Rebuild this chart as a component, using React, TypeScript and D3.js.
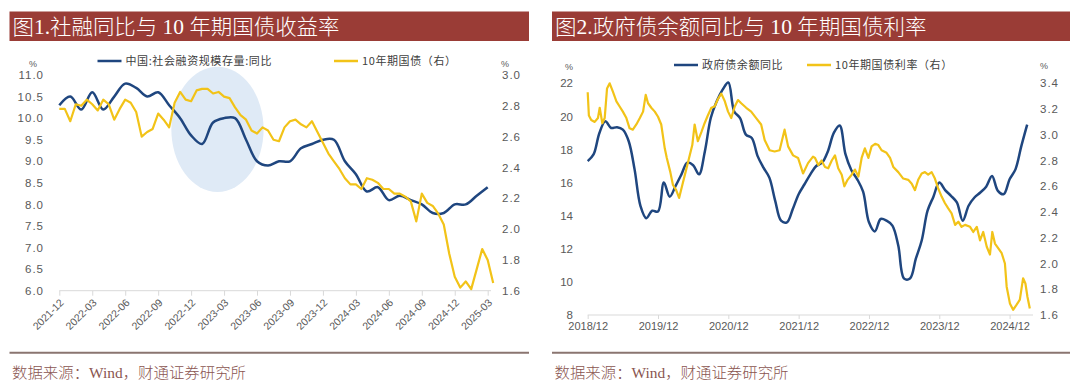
import React, { useEffect, useRef } from "react";
import * as d3 from "d3";

// ---- chart 1: 社融同比 vs 10Y (monthly, 2021-12 .. 2025-03) ----
const quarterLabels = [
  "2021-12", "2022-03", "2022-06", "2022-09", "2022-12", "2023-03", "2023-06",
  "2023-09", "2023-12", "2024-03", "2024-06", "2024-09", "2024-12", "2025-03",
];
// 中国:社会融资规模存量:同比, one value per month from 2021-12
const tsfYoy = [
  10.3, 10.5, 10.2, 10.6, 10.2, 10.5, 10.8, 10.7, 10.5, 10.6,
  10.3, 10.0, 9.6, 9.4, 9.9, 10.0, 10.0, 9.5, 9.0, 8.9,
  9.0, 9.0, 9.3, 9.4, 9.5, 9.5, 9.0, 8.7, 8.3, 8.4,
  8.1, 8.2, 8.1, 8.0, 7.8, 7.8, 8.0, 8.0, 8.2, 8.4,
];
// 10年期国债, twice a month from 2021-12
const cgb10y1 = [
  2.78, 2.78, 2.70, 2.81, 2.80, 2.84, 2.81, 2.77, 2.84, 2.81,
  2.71, 2.78, 2.84, 2.82, 2.76, 2.60, 2.63, 2.65, 2.75, 2.71,
  2.66, 2.82, 2.89, 2.84, 2.83, 2.90, 2.91, 2.91, 2.88, 2.89,
  2.86, 2.85, 2.79, 2.74, 2.71, 2.64, 2.62, 2.66, 2.64, 2.58,
  2.57, 2.66, 2.70, 2.71, 2.68, 2.66, 2.70, 2.63, 2.56, 2.49,
  2.44, 2.39, 2.33, 2.29, 2.29, 2.26, 2.33, 2.32, 2.30, 2.26,
  2.26, 2.23, 2.23, 2.21, 2.18, 2.05, 2.23, 2.17, 2.15, 2.10,
  2.03, 1.84, 1.69, 1.62, 1.66, 1.61, 1.74, 1.87, 1.80, 1.65,
];

// ---- chart 2: 政府债余额同比 vs 10Y (2018/12 .. 2025/03) ----
const yearLabels = ["2018/12", "2019/12", "2020/12", "2021/12", "2022/12", "2023/12", "2024/12"];
// 政府债余额同比, monthly from 2018-12
const govDebtYoy = [
  17.3, 17.7, 19.0, 19.7, 19.3, 19.35, 19.2, 18.5, 16.8, 14.6,
  13.85, 14.3, 14.25, 16.0, 15.15, 15.8, 16.5, 17.2, 17.05, 16.5,
  17.9, 19.9, 20.9, 21.6, 22.05, 20.3, 19.9, 18.9, 18.7, 17.6,
  16.9, 16.3, 14.9, 13.7, 13.6, 14.4, 15.3, 15.9, 16.5, 17.0,
  17.2, 17.9, 19.0, 19.45, 17.7, 16.75, 16.2, 15.45, 13.6, 13.05,
  13.8, 13.7, 13.4, 12.2, 10.2, 10.2, 11.4, 12.5, 14.3, 15.15,
  16.0, 15.55, 15.2, 14.8, 13.7, 14.6, 15.1, 15.4, 15.75, 16.4,
  15.5, 15.3, 16.2, 16.8, 18.2, 19.5,
];
// 10年期国债利率: months after 2018-12 and yield
const cgbMonths2 = [
  0, 0.2, 0.6, 1.2, 1.75, 2.05, 2.5, 2.9, 3.3, 3.75,
  4.3, 4.9, 5.45, 6.0, 6.6, 7.15, 7.7, 8.3, 8.9, 9.45,
  9.9, 10.3, 10.85, 11.45, 12.0, 12.55, 13.15, 13.5, 14.1, 14.55,
  15.1, 15.6, 16.15, 16.7, 17.3, 17.85, 18.25, 18.8, 19.4, 19.95,
  20.5, 21.1, 21.65, 22.25, 22.8, 23.4, 23.95, 24.5, 25.1, 25.65,
  26.2, 27.05, 27.9, 28.75, 29.6, 30.2, 31.05, 31.9, 32.75, 33.6,
  34.2, 35.05, 35.9, 36.75, 37.6, 38.45, 38.8, 39.35, 39.9, 40.5,
  41.05, 41.65, 42.2, 42.75, 43.35, 43.8, 44.35, 45.05, 45.6, 46.2,
  46.75, 47.3, 47.9, 48.45, 49.05, 49.6, 50.15, 51.0, 51.6, 52.15,
  53.0, 53.85, 54.7, 55.3, 55.85, 56.4, 57.0, 57.55, 58.1, 58.7,
  59.25, 59.8, 60.4, 60.95, 61.5, 62.1, 62.7, 63.25, 63.8, 64.4,
  65.25, 65.8, 66.4, 66.95, 67.5, 68.1, 68.65, 69.05, 69.5, 70.05,
  70.65, 71.2, 71.5, 72.05, 72.6, 73.2, 73.75, 74.3, 74.7, 75.05,
  75.45,
];
const cgb10y2 = [
  3.33, 3.15, 3.115, 3.10, 3.13, 3.21, 3.09, 3.13, 3.36, 3.40,
  3.335, 3.26, 3.22, 3.18, 3.13, 3.05, 3.04, 3.08, 3.13, 3.18,
  3.31, 3.245, 3.21, 3.18, 3.14, 3.08, 2.895, 2.82, 2.71, 2.61,
  2.57, 2.51, 2.61, 2.71, 2.82, 2.92, 3.08, 2.95, 3.02, 3.09,
  3.15, 3.21, 3.22, 3.28, 3.32, 3.26, 3.18, 3.13, 3.22, 3.27,
  3.245, 3.21, 3.18, 3.13, 3.08, 2.96, 2.88, 2.87, 2.88, 3.04,
  2.91, 2.84, 2.82, 2.70, 2.78, 2.83, 2.82, 2.765, 2.80, 2.75,
  2.74, 2.80, 2.84, 2.74, 2.69, 2.60, 2.65, 2.69, 2.73, 2.675,
  2.82, 2.895, 2.82, 2.91, 2.93, 2.92, 2.88, 2.86, 2.82, 2.75,
  2.71, 2.66, 2.65, 2.62, 2.57, 2.65, 2.70, 2.71, 2.69, 2.71,
  2.66, 2.585, 2.52, 2.47, 2.43, 2.39, 2.30, 2.325, 2.285, 2.30,
  2.285, 2.245, 2.285, 2.18, 2.245, 2.13, 2.07, 2.245, 2.155, 2.12,
  2.08, 2.00, 1.82, 1.69, 1.64, 1.68, 1.72, 1.885, 1.845, 1.74,
  1.65,
];

const BLUE = "#1f467f";
const GOLD = "#f2c318";
const GREY = "#595959";
const AXIS = "#d9d9d9";
const BAR = "#9a3c36";
const CJK = "'Noto Sans CJK SC', sans-serif";
const SERIF = "'Liberation Serif', 'Noto Sans CJK SC', serif";
const NUM = "'Liberation Sans', Arial, sans-serif";

const App: React.FC = () => {
  const svgRef = useRef<SVGSVGElement>(null);

  useEffect(() => {
    const svg = d3.select(svgRef.current);
    svg.selectAll("*").remove();

    const frame = (x0: number, x1: number, title: string, titleLen: number) => {
      svg.append("rect").attr("x", x0).attr("y", 11.5).attr("width", x1 - x0)
        .attr("height", 29.5).attr("fill", BAR);
      svg.append("text").attr("x", x0 + 3).attr("y", 34).attr("fill", "#fff")
        .attr("font-family", SERIF).attr("font-size", 21).attr("font-weight", 300)
        .attr("textLength", titleLen).attr("lengthAdjust", "spacingAndGlyphs")
        .text(title);
      svg.append("line").attr("x1", x0).attr("x2", x1).attr("y1", 352.7).attr("y2", 352.7)
        .attr("stroke", "#8a7570").attr("stroke-width", 2);
      svg.append("text").attr("x", x0 + 2.5).attr("y", 378).attr("fill", "#8a5550")
        .attr("font-family", SERIF).attr("font-size", 15).attr("font-weight", 300)
        .attr("textLength", 234).attr("lengthAdjust", "spacingAndGlyphs")
        .text("数据来源：Wind，财通证券研究所");
    };

    const legendItem = (x: number, y: number, color: string, label: string) => {
      svg.append("line").attr("x1", x).attr("x2", x + 24).attr("y1", y).attr("y2", y)
        .attr("stroke", color).attr("stroke-width", 2.5);
      svg.append("text").attr("x", x + 28).attr("y", y).attr("dy", "0.35em")
        .attr("font-family", CJK).attr("font-size", 11).attr("fill", "#404040")
        .attr("letter-spacing", 0.6).text(label);
    };

    const pct = (x: number, y: number) => {
      svg.append("text").attr("x", x).attr("y", y).attr("dy", "0.35em")
        .attr("text-anchor", "middle").attr("font-family", NUM).attr("font-size", 9)
        .attr("fill", GREY).text("%");
    };

    const valueAxis = (g: d3.Selection<SVGGElement, unknown, null, undefined>, spaced: boolean) => {
      g.select(".domain").remove();
      g.attr("font-family", NUM).attr("font-size", 11.5);
      g.selectAll("text").attr("fill", GREY).attr("letter-spacing", spaced ? 1 : 0);
    };

    // ================= chart 1 =================
    frame(9.5, 529, "图1.社融同比与 10 年期国债收益率", 327);
    const x1 = d3.scaleLinear().domain([0, 39]).range([59.3, 487.7]);
    const yl1 = d3.scaleLinear().domain([6, 11]).range([290.7, 75]);
    const yr1 = d3.scaleLinear().domain([1.6, 3.0]).range([290.7, 75]);

    // highlight ellipse (data units)
    const hl = { m: 14.4, v: 9.74, dm: 4.2, dv: 1.45 };
    svg.append("ellipse").attr("cx", x1(hl.m)).attr("cy", yl1(hl.v))
      .attr("rx", x1(hl.m + hl.dm) - x1(hl.m)).attr("ry", yl1(hl.v - hl.dv) - yl1(hl.v))
      .attr("fill", "#dfeaf6");

    const gx1 = svg.append("g").attr("transform", `translate(0,${yl1(6)})`)
      .call(d3.axisBottom(x1).tickValues(quarterLabels.map((_, i) => i * 3))
        .tickFormat((_, i) => quarterLabels[i]).tickSizeOuter(0).tickSize(5));
    gx1.select(".domain").remove();
    gx1.selectAll("line").attr("stroke", AXIS);
    gx1.attr("font-family", NUM).attr("font-size", 10.5);
    gx1.selectAll("text").attr("fill", GREY).attr("x", 0).attr("y", 0).attr("dy", "0.35em")
      .attr("text-anchor", "end").attr("transform", "translate(2,10) rotate(-45)");
    svg.append("line").attr("x1", x1(0)).attr("x2", x1(39.3)).attr("y1", yl1(6)).attr("y2", yl1(6))
      .attr("stroke", AXIS);

    svg.append("g").attr("transform", "translate(49,0)")
      .call(d3.axisLeft(yl1).tickValues(d3.range(0, 11).map((i) => 6 + i * 0.5))
        .tickFormat(d3.format(".1f")).tickSize(0).tickPadding(5))
      .call((g) => valueAxis(g, true));
    svg.append("g").attr("transform", "translate(497,0)")
      .call(d3.axisRight(yr1).tickValues(d3.range(0, 8).map((i) => 1.6 + i * 0.2))
        .tickFormat(d3.format(".1f")).tickSize(0).tickPadding(5))
      .call((g) => valueAxis(g, true));

    pct(33, 64);
    pct(505, 64);
    legendItem(97.5, 61, BLUE, "中国:社会融资规模存量:同比");
    legendItem(334, 61, GOLD, "10年期国债（右）");

    svg.append("path").datum(tsfYoy).attr("fill", "none").attr("stroke", BLUE)
      .attr("stroke-width", 2.5)
      .attr("d", d3.line<number>().x((_, i) => x1(i)).y((d) => yl1(d)).curve(d3.curveCatmullRom));
    svg.append("path").datum(cgb10y1).attr("fill", "none").attr("stroke", GOLD)
      .attr("stroke-width", 2.2).attr("stroke-linejoin", "round")
      .attr("d", d3.line<number>().x((_, i) => x1(i * 0.5)).y((d) => yr1(d)));

    // ================= chart 2 =================
    frame(552, 1070, "图2.政府债余额同比与 10 年期国债利率", 371.5);
    const x2 = d3.scaleLinear().domain([0, 72]).range([587.7, 1009.6]);
    const yl2 = d3.scaleLinear().domain([8, 22]).range([315, 83.3]);
    const yr2 = d3.scaleLinear().domain([1.6, 3.4]).range([315, 83.3]);

    const gx2 = svg.append("g").attr("transform", `translate(0,${yl2(8)})`)
      .call(d3.axisBottom(x2).tickValues(yearLabels.map((_, i) => i * 12))
        .tickFormat((_, i) => yearLabels[i]).tickSizeOuter(0).tickSize(4));
    gx2.select(".domain").remove();
    gx2.selectAll("line").attr("stroke", AXIS);
    gx2.attr("font-family", NUM).attr("font-size", 11);
    gx2.selectAll("text").attr("fill", GREY).attr("y", 7);
    svg.append("line").attr("x1", x2(0)).attr("x2", x2(76)).attr("y1", yl2(8)).attr("y2", yl2(8))
      .attr("stroke", AXIS);

    svg.append("g").attr("transform", "translate(578,0)")
      .call(d3.axisLeft(yl2).tickValues(d3.range(8, 23, 2)).tickFormat(d3.format("d"))
        .tickSize(0).tickPadding(5))
      .call((g) => valueAxis(g, false));
    svg.append("g").attr("transform", "translate(1035,0)")
      .call(d3.axisRight(yr2).tickValues(d3.range(0, 10).map((i) => 1.6 + i * 0.2))
        .tickFormat(d3.format(".1f")).tickSize(0).tickPadding(5))
      .call((g) => valueAxis(g, true));

    pct(569, 67);
    pct(1044, 66);
    legendItem(674, 65, BLUE, "政府债余额同比");
    legendItem(807, 65, GOLD, "10年期国债利率（右）");

    svg.append("path").datum(govDebtYoy).attr("fill", "none").attr("stroke", BLUE)
      .attr("stroke-width", 2.5)
      .attr("d", d3.line<number>().x((_, i) => x2(i)).y((d) => yl2(d)).curve(d3.curveCatmullRom));
    svg.append("path").datum(cgb10y2).attr("fill", "none").attr("stroke", GOLD)
      .attr("stroke-width", 2.2).attr("stroke-linejoin", "round")
      .attr("d", d3.line<number>().x((_, i) => x2(cgbMonths2[i])).y((d) => yr2(d)));
  }, []);

  return (
    <svg
      ref={svgRef}
      width={1080}
      height={389}
      style={{ position: "absolute", left: 0, top: 0, background: "#fff" }}
    />
  );
};

export default App;
